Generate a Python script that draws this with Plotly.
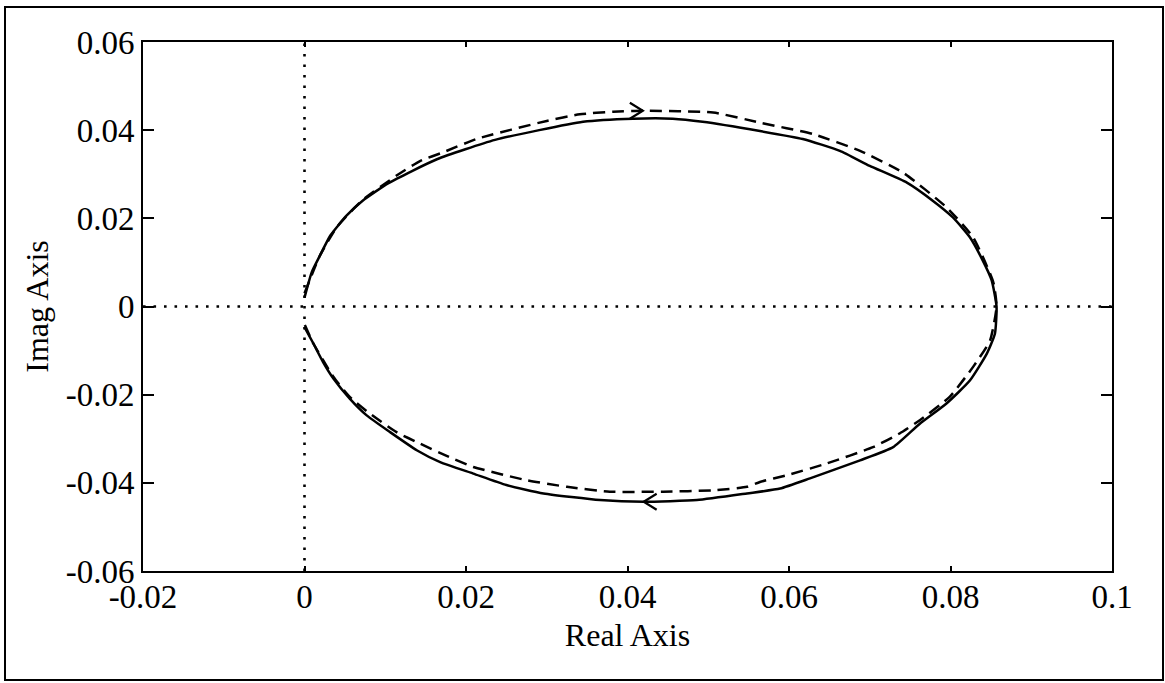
import plotly.graph_objects as go

# ---- data ----
x_range = [-0.02, 0.1]
y_range = [-0.06, 0.06]
x_ticks = [-0.02, 0, 0.02, 0.04, 0.06, 0.08, 0.1]
x_tick_labels = ["-0.02", "0", "0.02", "0.04", "0.06", "0.08", "0.1"]
y_ticks = [-0.06, -0.04, -0.02, 0, 0.02, 0.04, 0.06]
y_tick_labels = ["-0.06", "-0.04", "-0.02", "0", "0.02", "0.04", "0.06"]

solid_re = [0.0000, 0.0009, 0.0019, 0.0032, 0.0052, 0.0072, 0.0104, 0.0164, 0.0236,
            0.0345, 0.0407, 0.0456, 0.0493, 0.0564, 0.0617, 0.0663, 0.0700, 0.0746,
            0.0778, 0.0803, 0.0824, 0.0840, 0.0851, 0.0857, 0.0855, 0.0845, 0.0824,
            0.0795, 0.0762, 0.0729, 0.0688, 0.0626, 0.0589, 0.0548, 0.0486, 0.0420,
            0.0366, 0.0296, 0.0250, 0.0209, 0.0168, 0.0139, 0.0106, 0.0077, 0.0056,
            0.0036, 0.0023, 0.0011, 0.0000]
solid_im = [0.0020, 0.0078, 0.0115, 0.0161, 0.0206, 0.0240, 0.0280, 0.0334, 0.0378,
            0.0419, 0.0426, 0.0426, 0.0419, 0.0398, 0.0380, 0.0353, 0.0319, 0.0281,
            0.0240, 0.0202, 0.0157, 0.0104, 0.0059, 0.0000, -0.0062, -0.0107, -0.0168,
            -0.0220, -0.0266, -0.0319, -0.0349, -0.0390, -0.0413, -0.0424, -0.0439, -0.0443,
            -0.0439, -0.0424, -0.0405, -0.0379, -0.0353, -0.0326, -0.0285, -0.0247, -0.0209,
            -0.0164, -0.0126, -0.0084, -0.0047]

dashed_re = [0.0000, 0.0019, 0.0040, 0.0071, 0.0114, 0.0143, 0.0172, 0.0213, 0.0300,
             0.0341, 0.0382, 0.0419, 0.0506, 0.0564, 0.0630, 0.0688, 0.0741, 0.0795,
             0.0828, 0.0853, 0.0857, 0.0849, 0.0828, 0.0799, 0.0762, 0.0737, 0.0704,
             0.0647, 0.0597, 0.0564, 0.0548, 0.0506, 0.0444, 0.0378, 0.0325, 0.0275,
             0.0209, 0.0176, 0.0143, 0.0114, 0.0081, 0.0056, 0.0036, 0.0011, 0.0000]
dashed_im = [0.0030, 0.0115, 0.0180, 0.0240, 0.0297, 0.0330, 0.0350, 0.0380, 0.0421,
             0.0436, 0.0442, 0.0444, 0.0440, 0.0417, 0.0391, 0.0353, 0.0304, 0.0225,
             0.0157, 0.0055, 0.0000, -0.0077, -0.0137, -0.0205, -0.0258, -0.0288, -0.0319,
             -0.0356, -0.0383, -0.0398, -0.0409, -0.0417, -0.0420, -0.0420, -0.0409, -0.0394,
             -0.0364, -0.0339, -0.0311, -0.0285, -0.0243, -0.0205, -0.0160, -0.0084, -0.0040]

# direction arrows (tip position, +1 = pointing right, -1 = pointing left)
arrow_x = [0.0419, 0.0420]
arrow_y = [0.0444, -0.0443]
arrow_dir = [1, -1]

# ---- layout geometry ----
W, H = 1165, 683
ml, mr, mt, mb = 143, 53, 42, 112
pw, ph = W - ml - mr, H - mt - mb
px_x = (x_range[1] - x_range[0]) / pw   # data units per pixel
px_y = (y_range[1] - y_range[0]) / ph

fig = go.Figure()

# dotted zero lines
fig.add_trace(go.Scatter(x=x_range, y=[0, 0], mode="lines",
                         line=dict(color="black", width=2.6, dash="2.6px,7.9px"),
                         hoverinfo="skip", showlegend=False))
fig.add_trace(go.Scatter(x=[0, 0], y=y_range, mode="lines",
                         line=dict(color="black", width=2.6, dash="2.6px,7.9px"),
                         hoverinfo="skip", showlegend=False))

fig.add_trace(go.Scatter(x=solid_re, y=solid_im, mode="lines",
                         line=dict(color="black", width=2.5, shape="spline", smoothing=0.5),
                         showlegend=False))
fig.add_trace(go.Scatter(x=dashed_re, y=dashed_im, mode="lines",
                         line=dict(color="black", width=2.5, dash="12px,7px",
                                   shape="spline", smoothing=0.5),
                         showlegend=False))

# arrow chevrons
ax, ay = [], []
back, half = 13, 8
for xt, yt, d in zip(arrow_x, arrow_y, arrow_dir):
    ax += [xt - d * back * px_x, xt, xt - d * back * px_x, None]
    ay += [yt + half * px_y, yt, yt - half * px_y, None]
fig.add_trace(go.Scatter(x=ax, y=ay, mode="lines",
                         line=dict(color="black", width=2.2), showlegend=False))

tick_font = dict(family="Liberation Serif, Times New Roman, serif", size=33, color="black")
title_font = dict(family="Liberation Serif, Times New Roman, serif", size=32, color="black")

fig.update_layout(
    width=W, height=H,
    margin=dict(l=ml, r=mr, t=mt, b=mb),
    paper_bgcolor="white", plot_bgcolor="white",
    font=tick_font,
    showlegend=False,
    xaxis=dict(range=x_range, tickvals=x_ticks, ticktext=x_tick_labels,
               ticks="inside", ticklen=5, tickwidth=2, tickcolor="black",
               showline=True, linewidth=2, linecolor="black", mirror="ticks",
               showgrid=False, zeroline=False, tickfont=tick_font,
               ticklabelstandoff=-5,
               title=dict(text="Real Axis", font=title_font, standoff=10)),
    yaxis=dict(range=y_range, tickvals=y_ticks, ticktext=y_tick_labels,
               ticks="inside", ticklen=11, tickwidth=2, tickcolor="black",
               showline=True, linewidth=2, linecolor="black", mirror="ticks",
               showgrid=False, zeroline=False, tickfont=tick_font,
               title=dict(text="Imag Axis", font=title_font, standoff=7)),
)

# outer frame around the whole figure
fig.add_shape(type="rect", xref="paper", yref="paper",
              x0=(5 - ml) / pw, x1=(1163 - ml) / pw,
              y0=-(680 - (H - mb)) / ph, y1=((H - mb) - 7) / ph,
              line=dict(color="black", width=2), fillcolor="rgba(0,0,0,0)")

fig.write_html("out.html")
